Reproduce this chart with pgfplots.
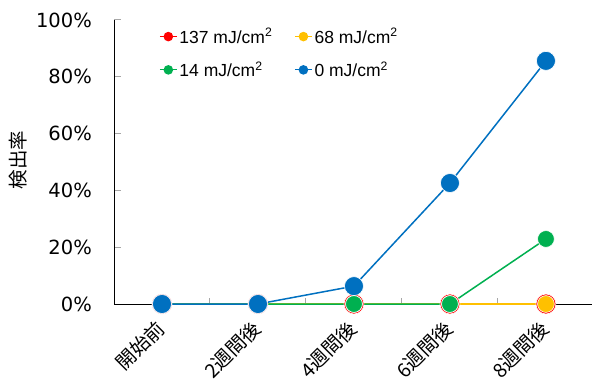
\documentclass[border=0pt]{standalone}
\usepackage{fontspec}
\setmainfont{Liberation Sans}
\newfontfamily\jp{Noto Sans CJK JP}
\newfontfamily\dv{DejaVu Sans}
\usepackage{pgfplots}
\pgfplotsset{compat=1.18}
\definecolor{cred}{HTML}{FF0000}
\definecolor{cyel}{HTML}{FFC000}
\definecolor{cgreen}{HTML}{00B050}
\definecolor{cblue}{HTML}{0070C0}
\definecolor{tickgray}{HTML}{A6A6A6}
\begin{document}
\begin{tikzpicture}[x=1bp,y=1bp]
\useasboundingbox (0,0) rectangle (592,383);
\begin{axis}[
  at={(114bp,79bp)}, anchor=south west,
  scale only axis, width=478bp, height=284bp,
  xmin=-0.5, xmax=4.48, ymin=0, ymax=100,
  axis lines*=left,
  axis line style={black, line width=0.8bp},
  tick align=inside,
  xtick={0,1,2,3,4},
  xticklabels={開始前,2週間後,4週間後,6週間後,8週間後},
  major x tick style={draw=none},
  minor xtick={0.5,1.5,2.5,3.5},
  minor tick length=6bp,
  minor x tick style={tickgray, line width=1bp},
  ytick={0,20,40,60,80,100},
  yticklabels={0\%,20\%,40\%,60\%,80\%,100\%},
  major tick length=7bp,
  y tick style={tickgray, line width=1bp},
  yticklabel style={font=\dv\fontsize{19.5bp}{20bp}\selectfont, inner sep=0pt, anchor=east, xshift=-22bp},
  xticklabel style={font=\jp\fontsize{19.5bp}{19.5bp}\selectfont, inner sep=0pt, xshift=-1bp, yshift=-21bp, rotate=45, anchor=east},
  ylabel={\jp 検出率},
  ylabel style={at={(axis description cs:-0.2,0.507)}, anchor=center, rotate=0, font=\jp\fontsize{19.5bp}{20bp}\selectfont},
  clip=false,
  legend columns=2,
  legend cell align=left,
  legend style={at={(0.088,0.985)}, anchor=north west, draw=none, fill=none,
    font=\fontsize{17.5bp}{18bp}\selectfont, row sep=13bp,
    /tikz/every even column/.append style={column sep=20bp}},
  legend image code/.code={\draw[#1,mark=none,line width=1.2bp] (0bp,0bp) -- (17bp,0bp); \fill[#1] (8.5bp,0bp) circle (4bp);},
]
\addplot[color=cred, line width=1.5bp, mark=*, mark size=10bp, mark options={fill=cred, draw=white, line width=0.6bp}]
  coordinates {(0,0) (1,0) (2,0) (3,0) (4,0)};
\addlegendentry{137 mJ/cm\textsuperscript{2}}
\addplot[color=cyel, line width=1.5bp, mark=*, mark size=8.4bp, mark options={fill=cyel, draw=white, line width=0.6bp}]
  coordinates {(0,0) (1,0) (2,0) (3,0) (4,0)};
\addlegendentry{68 mJ/cm\textsuperscript{2}}
\addplot[color=cgreen, line width=1.5bp, mark=*, mark size=8.4bp, mark options={fill=cgreen, draw=white, line width=0.6bp}]
  coordinates {(0,0) (1,0) (2,0) (3,0) (4,22.9)};
\addlegendentry{14 mJ/cm\textsuperscript{2}}
\addplot[color=cblue, line width=1.5bp, mark=*, mark size=9.5bp, mark options={fill=cblue, draw=white, line width=0.6bp}]
  coordinates {(0,0) (1,0) (2,6.3) (3,42.6) (4,85.6)};
\addlegendentry{0 mJ/cm\textsuperscript{2}}
\end{axis}
\end{tikzpicture}
\end{document}
